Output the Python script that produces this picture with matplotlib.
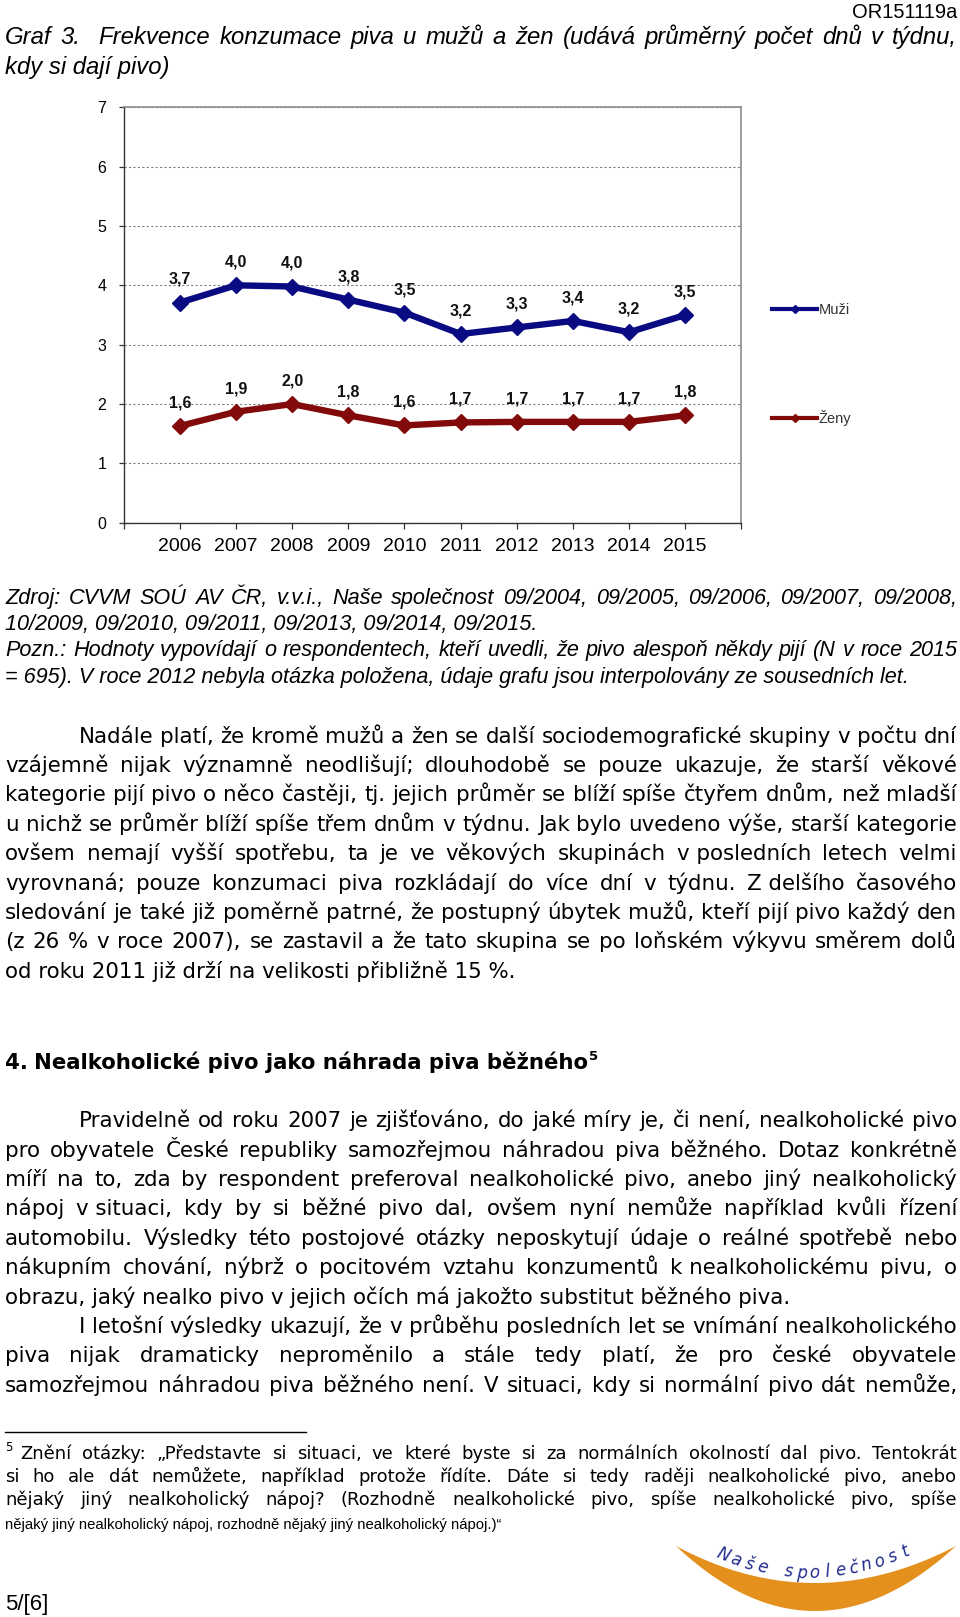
import numpy as np
import matplotlib
matplotlib.use('Agg')
import matplotlib.pyplot as plt
from matplotlib.lines import Line2D
from matplotlib.patches import Polygon
from matplotlib import font_manager as fm

# ---------------- data ----------------
years = [2006, 2007, 2008, 2009, 2010, 2011, 2012, 2013, 2014, 2015]
muzi = [3.71, 4.00, 3.98, 3.76, 3.54, 3.18, 3.29, 3.40, 3.21, 3.50]
zeny = [1.63, 1.87, 2.00, 1.81, 1.64, 1.69, 1.70, 1.70, 1.70, 1.81]
series_labels = ['Muži', 'Ženy']
y_ticks = [0, 1, 2, 3, 4, 5, 6, 7]

header_code = 'OR151119a'
title_lines = [
    'Graf 3.  Frekvence konzumace piva u mužů a žen (udává průměrný počet dnů v týdnu,',
    'kdy si dají pivo)',
]
source_lines = [
    'Zdroj: CVVM SOÚ AV ČR, v.v.i., Naše společnost 09/2004, 09/2005, 09/2006, 09/2007, 09/2008,',
    '10/2009, 09/2010, 09/2011, 09/2013, 09/2014, 09/2015.',
]
note_lines = [
    'Pozn.: Hodnoty vypovídají o respondentech, kteří uvedli, že pivo alespoň někdy pijí (N v roce 2015',
    '= 695). V roce 2012 nebyla otázka položena, údaje grafu jsou interpolovány ze sousedních let.',
]
para1 = [
    'Nadále platí, že kromě mužů a žen se další sociodemografické skupiny v počtu dní',
    'vzájemně nijak významně neodlišují; dlouhodobě se pouze ukazuje, že starší věkové',
    'kategorie pijí pivo o něco častěji, tj. jejich průměr se blíží spíše čtyřem dnům, než mladší',
    'u nichž se průměr blíží spíše třem dnům v týdnu. Jak bylo uvedeno výše, starší kategorie',
    'ovšem nemají vyšší spotřebu, ta je ve věkových skupinách v\u00a0posledních letech velmi',
    'vyrovnaná; pouze konzumaci piva rozkládají do více dní v týdnu. Z\u00a0delšího časového',
    'sledování je také již poměrně patrné, že postupný úbytek mužů, kteří pijí pivo každý den',
    '(z 26 % v roce 2007), se zastavil a že tato skupina se po loňském výkyvu směrem dolů',
    'od roku 2011 již drží na velikosti přibližně 15 %.',
]
heading_num = '4.'
heading_text = 'Nealkoholické pivo jako náhrada piva běžného'
footnote_mark = '5'
para2 = [
    'Pravidelně od roku 2007 je zjišťováno, do jaké míry je, či není, nealkoholické pivo',
    'pro obyvatele České republiky samozřejmou náhradou piva běžného. Dotaz konkrétně',
    'míří na to, zda by respondent preferoval nealkoholické pivo, anebo jiný nealkoholický',
    'nápoj v\u00a0situaci, kdy by si běžné pivo dal, ovšem nyní nemůže například kvůli řízení',
    'automobilu. Výsledky této postojové otázky neposkytují údaje o reálné spotřebě nebo',
    'nákupním chování, nýbrž o pocitovém vztahu konzumentů k\u00a0nealkoholickému pivu, o',
    'obrazu, jaký nealko pivo v jejich očích má jakožto substitut běžného piva.',
]
para3 = [
    'I letošní výsledky ukazují, že v průběhu posledních let se vnímání nealkoholického',
    'piva nijak dramaticky neproměnilo a stále tedy platí, že pro české obyvatele',
    'samozřejmou náhradou piva běžného není. V situaci, kdy si normální pivo dát nemůže,',
]
footnote_lines = [
    'Znění otázky: „Představte si situaci, ve které byste si za normálních okolností dal pivo. Tentokrát',
    'si ho ale dát nemůžete, například protože řídíte. Dáte si tedy raději nealkoholické pivo, anebo',
    'nějaký jiný nealkoholický nápoj? (Rozhodně nealkoholické pivo, spíše nealkoholické pivo, spíše',
    'nějaký jiný nealkoholický nápoj, rozhodně nějaký jiný nealkoholický nápoj.)\u201c',
]
page_label = '5/[6]'
logo_text = 'Naše společnost'

# ---------------- setup ----------------
plt.rcParams['font.family'] = ['Liberation Sans', 'DejaVu Sans']
W, H = 960, 1617
fig = plt.figure(figsize=(W / 100, H / 100), dpi=100)
fig.patch.set_facecolor('white')
renderer = fig.canvas.get_renderer()


def has_font(name):
    try:
        fm.findfont(fm.FontProperties(family=name), fallback_to_default=False)
        return True
    except Exception:
        return False


NARROW = has_font('Liberation Sans Narrow')


def put(x, y, s, **kw):
    kw.setdefault('va', 'baseline')
    return fig.text(x / W, 1 - y / H, s, **kw)


def width(s, **kw):
    if s == '':
        return 0.0
    t = fig.text(0, 0, s, **kw)
    w = t.get_window_extent(renderer).width
    t.remove()
    return w


def justify(x0, x1, y, line, **kw):
    words = line.split(' ')
    ws = [width(w, **kw) for w in words]
    gap = (x1 - x0 - sum(ws)) / max(len(words) - 1, 1)
    x = x0
    for w, wd in zip(words, ws):
        if w:
            put(x, y, w, **kw)
        x += wd + gap


def block(lines, x_first, x0, x1, y0, dy, last_justified=False, **kw):
    for i, line in enumerate(lines):
        xs = x_first if i == 0 else x0
        y = y0 + i * dy
        if i == len(lines) - 1 and not last_justified:
            put(xs, y, line, **kw)
        else:
            justify(xs, x1, y, line, **kw)


XL, XR = 5.0, 957.0
INDENT = 78.4
body = dict(family='DejaVu Sans', fontsize=15.4, color='black')
ital = dict(family='Liberation Sans', style='italic', fontsize=15.6, color='black')
tital = dict(family='Liberation Sans', style='italic', fontsize=17.2, color='black')

# ---------------- header ----------------
put(XR, 18, header_code, ha='right', family='Liberation Sans', fontsize=14.5, color='black')
block(title_lines, XL, XL, XR, 44, 29.9, **tital)

# ---------------- chart ----------------
ax_l, ax_r, ax_t, ax_b = 123.7, 741.4, 107.2, 522.8
ax = fig.add_axes([ax_l / W, 1 - ax_b / H, (ax_r - ax_l) / W, (ax_b - ax_t) / H])
ax.set_xlim(years[0] - 1, years[-1] + 1)
ax.set_ylim(y_ticks[0], y_ticks[-1])
ax.set_yticks(y_ticks)
xt = [years[0] - 1] + years + [years[-1] + 1]
ax.set_xticks(xt)
ax.set_xticklabels([''] + [str(y) for y in years] + [''])
ax.yaxis.grid(True, linestyle=(0, (2, 2)), color='#808080', linewidth=0.8)
ax.set_axisbelow(True)
for s in ['top', 'right']:
    ax.spines[s].set_color('#8c8c8c')
    ax.spines[s].set_linewidth(1.2)
for s in ['left', 'bottom']:
    ax.spines[s].set_color('#333333')
    ax.spines[s].set_linewidth(1.0)
ax.tick_params(axis='y', direction='out', length=3.5, width=0.9, pad=9,
               labelsize=11.5, colors='#333333', labelcolor='black')
ax.tick_params(axis='x', direction='out', length=4.3, width=0.9, pad=7,
               labelsize=14, colors='#333333', labelcolor='black')

colors = ['#0a0a82', '#820a0a']
for vals, col, lab in zip([muzi, zeny], colors, series_labels):
    ax.plot(years, vals, color=col, lw=4.6, marker='D', ms=8.5, mew=1,
            solid_joinstyle='round', label=lab, zorder=3)
    for x, v in zip(years, vals):
        ax.annotate(f'{v:.1f}'.replace('.', ','), (x, v), xytext=(0, 16.6),
                    textcoords='offset points', ha='center', va='center',
                    fontsize=11.5, fontweight='bold', color='#111111',
                    family='Liberation Sans')

handles = [Line2D([], [], color=c, lw=3, marker='D', ms=4.5) for c in colors]
fig.legend(handles, series_labels, loc='upper left',
           bbox_to_anchor=(772 / W, 1 - 303 / H), frameon=False,
           handlelength=3.1, handletextpad=0.1, labelspacing=6.4,
           borderpad=0, borderaxespad=0, fontsize=10.5,
           labelcolor='#333333')

# ---------------- sources ----------------
block(source_lines, XL, XL, XR, 603.5, 26.4, **ital)
block(note_lines, XL, XL, XR, 603.5 + 2 * 26.4, 26.4, **ital)

# ---------------- paragraph 1 ----------------
block(para1, INDENT, XL, XR, 742.6, 29.4, **body)

# ---------------- heading ----------------
hbold = dict(family='DejaVu Sans', fontweight='bold', fontsize=15.3, color='black')
put(XL, 1069, heading_num, **hbold)
hx = 34
put(hx, 1069, heading_text, **hbold)
hw = width(heading_text, **hbold)
put(hx + hw + 1, 1060, footnote_mark, family='DejaVu Sans', fontweight='bold',
    fontsize=9.5, color='black')

# ---------------- paragraphs 2, 3 ----------------
block(para2, INDENT, XL, XR, 1127.2, 29.4, **body)
block(para3, INDENT, XL, XR, 1333.0, 29.4, last_justified=True, **body)

# ---------------- footnote ----------------
fig.add_artist(Line2D([XL / W, 306 / W], [1 - 1432 / H, 1 - 1432 / H],
                      color='black', lw=1.0))
fnote = dict(family='DejaVu Sans', fontsize=13.0, color='black')
put(XL, 1451, footnote_mark, family='DejaVu Sans', fontsize=8.5, color='black')
justify(20, XR, 1459, footnote_lines[0], **fnote)
justify(XL, XR, 1459 + 23.2, footnote_lines[1], **fnote)
justify(XL, XR, 1459 + 2 * 23.2, footnote_lines[2], **fnote)
if NARROW:
    put(XL, 1459 + 3 * 23.2, footnote_lines[3], family='Liberation Sans Narrow',
        fontsize=12.4, color='black')
else:
    put(XL, 1459 + 3 * 23.2, footnote_lines[3], family='Liberation Sans',
        fontsize=10.7, color='black')

put(XL, 1610, page_label, family='Liberation Sans', fontsize=16, color='black')

# ---------------- logo ----------------
def bez(p0, c, p2, n=80):
    t = np.linspace(0, 1, n)[:, None]
    return (1 - t) ** 2 * np.array(p0) + 2 * (1 - t) * t * np.array(c) + t ** 2 * np.array(p2)

upper = bez((676, 1546), (814, 1620), (956, 1546))
lower = bez((956, 1546), (814, 1676), (676, 1546))
pts = np.vstack([upper, lower])
pts_fig = np.column_stack([pts[:, 0] / W, 1 - pts[:, 1] / H])
fig.add_artist(Polygon(pts_fig, closed=True, facecolor='#e4901d', edgecolor='none',
                       transform=fig.transFigure))

k = 0.00238
n = len(logo_text)
x_start, x_end = 721.0, 908.0
for i, ch in enumerate(logo_text):
    if ch == ' ':
        continue
    x = x_start + (x_end - x_start) * i / (n - 1)
    y = 1578 - k * (x - 810) ** 2
    slope = 2 * k * (810 - x)
    ang = -np.degrees(np.arctan(slope))
    put(x, y, ch, ha='center', family='DejaVu Sans', style='italic', fontsize=12,
        color='#1f2a8c', rotation=ang, rotation_mode='anchor')

fig.savefig('out.png', dpi=100, facecolor='white')
